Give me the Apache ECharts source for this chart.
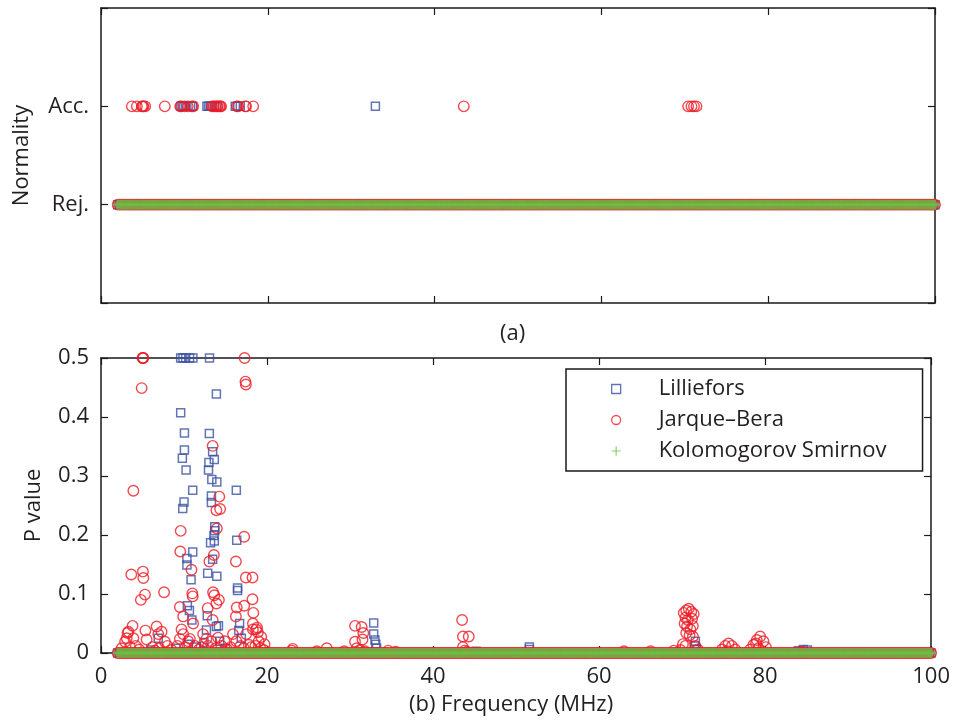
<!DOCTYPE html>
<html><head><meta charset="utf-8">
<script src="https://cdn.jsdelivr.net/npm/echarts@6/dist/echarts.min.js"></script>
<style>html,body{margin:0;padding:0;background:#fff}#c{width:953px;height:720px}</style>
</head><body><div id="c"></div>
<script>
// Frequency sweep (MHz) at which all three tests were evaluated
const freqMHz = [
2,2.25,2.5,2.75,3,3.25,3.5,3.75,4,4.25,4.5,4.75,5,5.25,5.5,5.75,6,6.25,6.5,6.75,
7,7.25,7.5,7.75,8,8.25,8.5,8.75,9,9.25,9.5,9.75,10,10.25,10.5,10.75,11,11.25,11.5,11.75,
12,12.25,12.5,12.75,13,13.25,13.5,13.75,14,14.25,14.5,14.75,15,15.25,15.5,15.75,16,16.25,16.5,16.75,
17,17.25,17.5,17.75,18,18.25,18.5,18.75,19,19.25,19.5,19.75,20,20.25,20.5,20.75,21,21.25,21.5,21.75,
22,22.25,22.5,22.75,23,23.25,23.5,23.75,24,24.25,24.5,24.75,25,25.25,25.5,25.75,26,26.25,26.5,26.75,
27,27.25,27.5,27.75,28,28.25,28.5,28.75,29,29.25,29.5,29.75,30,30.25,30.5,30.75,31,31.25,31.5,31.75,
32,32.25,32.5,32.75,33,33.25,33.5,33.75,34,34.25,34.5,34.75,35,35.25,35.5,35.75,36,36.25,36.5,36.75,
37,37.25,37.5,37.75,38,38.25,38.5,38.75,39,39.25,39.5,39.75,40,40.25,40.5,40.75,41,41.25,41.5,41.75,
42,42.25,42.5,42.75,43,43.25,43.5,43.75,44,44.25,44.5,44.75,45,45.25,45.5,45.75,46,46.25,46.5,46.75,
47,47.25,47.5,47.75,48,48.25,48.5,48.75,49,49.25,49.5,49.75,50,50.25,50.5,50.75,51,51.25,51.5,51.75,
52,52.25,52.5,52.75,53,53.25,53.5,53.75,54,54.25,54.5,54.75,55,55.25,55.5,55.75,56,56.25,56.5,56.75,
57,57.25,57.5,57.75,58,58.25,58.5,58.75,59,59.25,59.5,59.75,60,60.25,60.5,60.75,61,61.25,61.5,61.75,
62,62.25,62.5,62.75,63,63.25,63.5,63.75,64,64.25,64.5,64.75,65,65.25,65.5,65.75,66,66.25,66.5,66.75,
67,67.25,67.5,67.75,68,68.25,68.5,68.75,69,69.25,69.5,69.75,70,70.25,70.5,70.75,71,71.25,71.5,71.75,
72,72.25,72.5,72.75,73,73.25,73.5,73.75,74,74.25,74.5,74.75,75,75.25,75.5,75.75,76,76.25,76.5,76.75,
77,77.25,77.5,77.75,78,78.25,78.5,78.75,79,79.25,79.5,79.75,80,80.25,80.5,80.75,81,81.25,81.5,81.75,
82,82.25,82.5,82.75,83,83.25,83.5,83.75,84,84.25,84.5,84.75,85,85.25,85.5,85.75,86,86.25,86.5,86.75,
87,87.25,87.5,87.75,88,88.25,88.5,88.75,89,89.25,89.5,89.75,90,90.25,90.5,90.75,91,91.25,91.5,91.75,
92,92.25,92.5,92.75,93,93.25,93.5,93.75,94,94.25,94.5,94.75,95,95.25,95.5,95.75,96,96.25,96.5,96.75,
97,97.25,97.5,97.75,98,98.25,98.5,98.75,99,99.25,99.5,99.75,100
];

// Panel (a): frequencies where normality was accepted (Acc. = 1)
const lillieforsAccMHz = [9.6, 9.8, 10.1, 10.3, 10.75, 11.0, 12.7, 12.9, 13.1, 13.3, 13.6, 13.9, 16.1, 16.4, 16.7, 32.9];
const jarqueBeraAccMHz = [3.7, 4.3, 4.9, 5.0, 5.1, 5.3, 7.65, 9.5, 9.6, 10.0, 10.4, 10.9, 11.05, 13.3, 13.5, 13.7, 13.9, 14.0, 14.2, 14.3, 14.4, 16.3, 16.45, 17.3, 17.4, 18.25, 43.5, 70.4, 70.8, 71.1, 71.4];
const normalityTickLabels = { '0': 'Rej.', '1': 'Acc.' };

// Panel (b): non-zero p values [MHz, p]
const lillieforsP = [
[9.6,0.5],[9.87,0.5],[10.2,0.5],[10.67,0.5],[11.07,0.5],[13.07,0.5],
[13.9,0.439],[9.6,0.407],[10.05,0.373],[13.05,0.372],[10.05,0.344],[9.8,0.33],[13.45,0.341],[13.65,0.328],
[13.0,0.323],[12.95,0.31],[10.25,0.31],[13.35,0.294],[13.95,0.29],[11.05,0.276],[16.3,0.276],[13.3,0.266],
[10.0,0.256],[9.85,0.245],[13.3,0.255],[13.7,0.214],[13.7,0.207],[13.6,0.199],[13.65,0.19],[13.2,0.187],
[11.05,0.171],[10.35,0.16],[10.35,0.149],[13.45,0.159],[16.35,0.191],[12.85,0.135],[13.95,0.13],[10.85,0.124],
[16.45,0.11],[16.45,0.106],[10.4,0.08],[10.65,0.072],[10.95,0.056],[12.8,0.063],[14.15,0.046],[16.7,0.05],
[16.6,0.038],[6.9,0.025],[12.7,0.039],[13.9,0.045],[16.9,0.025],[14.3,0.02],[9.0,0.008],[10.5,0.015],
[11.5,0.01],[12.4,0.018],[15.0,0.008],[6.0,0.005],[32.85,0.051],[32.85,0.032],[33.0,0.022],[33.1,0.015],
[33.2,0.008],[45.2,0.003],[51.6,0.01],[51.6,0.006],[71.6,0.02],[71.5,0.012],[71.7,0.006],[84.0,0.004],
[84.6,0.006],[85.1,0.005]
];
const jarqueBeraP = [
[5.0,0.5],[5.1,0.5],[5.05,0.5],[4.9,0.449],[3.9,0.275],[17.3,0.5],[17.4,0.46],[17.45,0.455],
[3.65,0.133],[5.05,0.138],[5.1,0.127],[5.3,0.099],[4.8,0.09],[7.6,0.103],[9.6,0.207],[9.55,0.172],
[10.9,0.141],[11.0,0.101],[11.05,0.096],[9.5,0.078],[9.9,0.062],[11.1,0.05],[13.45,0.351],[14.25,0.265],
[13.9,0.242],[14.35,0.244],[13.95,0.211],[13.6,0.166],[13.05,0.155],[13.5,0.103],[13.65,0.098],[14.2,0.09],
[13.9,0.084],[12.85,0.076],[13.45,0.056],[17.25,0.197],[16.25,0.155],[17.45,0.128],[18.25,0.128],[18.25,0.091],
[17.25,0.08],[16.35,0.077],[18.35,0.068],[16.25,0.062],[18.3,0.05],[18.8,0.043],[18.7,0.04],
[3.3,0.036],[3.8,0.046],[5.35,0.038],[6.7,0.045],[7.3,0.036],[3.2,0.034],[3.1,0.025],[2.9,0.019],
[3.9,0.025],[5.5,0.023],[6.9,0.032],[7.7,0.019],[9.7,0.04],[9.9,0.032],[9.5,0.024],[10.7,0.024],
[10.5,0.02],[12.3,0.032],[12.7,0.024],[13.3,0.02],[14.1,0.026],[14.9,0.02],[15.9,0.032],[16.3,0.02],
[17.5,0.032],[18.3,0.04],[18.9,0.035],[19.3,0.027],[19.7,0.015],
[2.5,0.008],[3.5,0.01],[4.2,0.012],[4.6,0.006],[6.2,0.01],[6.5,0.004],[7.0,0.008],[8.0,0.012],
[8.5,0.005],[9.2,0.012],[10.2,0.01],[11.3,0.012],[11.8,0.006],[12.1,0.01],[12.9,0.012],[13.8,0.008],
[14.5,0.012],[15.2,0.006],[15.6,0.01],[16.8,0.012],[17.2,0.008],[17.8,0.014],[18.1,0.01],[18.6,0.012],
[19.0,0.02],[19.2,0.008],[19.6,0.005],
[23.0,0.004],[23.1,0.007],[26.0,0.003],[27.2,0.008],[29.3,0.003],[30.6,0.046],[31.4,0.044],[31.6,0.034],
[31.5,0.023],[30.6,0.019],[30.8,0.008],[31.2,0.005],[31.8,0.003],[34.6,0.004],[35.5,0.002],
[43.5,0.056],[43.6,0.028],[44.3,0.028],[43.6,0.01],[43.8,0.004],[44.1,0.002],[63.0,0.003],[66.2,0.003],[69.0,0.004],
[70.2,0.068],[70.5,0.072],[70.8,0.075],[71.1,0.07],[71.4,0.066],[70.4,0.06],[70.7,0.056],[71.2,0.058],
[70.3,0.05],[70.6,0.045],[71.0,0.04],[71.3,0.046],[70.5,0.034],[70.9,0.03],[71.3,0.028],[70.1,0.015],
[70.4,0.012],[71.6,0.012],[71.9,0.006],[69.8,0.005],
[74.8,0.006],[75.2,0.012],[75.6,0.016],[76.0,0.012],[76.4,0.006],[75.4,0.003],
[78.2,0.006],[78.6,0.014],[79.0,0.022],[79.4,0.028],[79.8,0.02],[80.1,0.01],[79.2,0.008],[78.9,0.016],
[84.5,0.002]
];
const seriesNames = ['Lilliefors', 'Jarque\u2013Bera', 'Kolomogorov Smirnov'];

const FONT = "'Open Sans', 'Noto Sans', sans-serif";
const AX = '#1a1a1a';
const TXT = '#231f20';
const BLUE = '#3953a4', RED = '#ed1c24', GREEN = '#6cbe45';
// filled plus shapes (band marker and thinner legend icon)
const PLUS = 'path://M3.8,0H6.2V3.8H10V6.2H6.2V10H3.8V6.2H0V3.8H3.8Z';
const PLUS_THIN = 'path://M4.35,0H5.65V4.35H10V5.65H5.65V10H4.35V5.65H0V4.35H4.35Z';

function frameAxis(o) {
  return Object.assign({
    type: 'value',
    axisLine: { show: true, onZero: false, lineStyle: { color: AX, width: 1.5 } },
    axisTick: { show: true, inside: true, length: 7, lineStyle: { color: AX, width: 1.2 } },
    axisLabel: { show: false },
    splitLine: { show: false }
  }, o);
}
const labelStyle = { show: true, fontSize: 22, fontFamily: FONT, color: TXT };
const nameStyle = { fontSize: 22, fontFamily: FONT, color: TXT };

const zeros = freqMHz.map(f => [f, 0]);
const styleL = { color: 'rgba(0,0,0,0)', borderColor: BLUE, borderWidth: 1.5 };
const styleJ = { color: 'rgba(0,0,0,0)', borderColor: RED, borderWidth: 1.4 };
const styleK = { color: GREEN, borderWidth: 0 };

function mk(name, xi, yi, data, sym, size, style) {
  return { type: 'scatter', name, xAxisIndex: xi, yAxisIndex: yi, data, symbol: sym, symbolSize: size,
    itemStyle: style, clip: false, silent: true, large: false, progressive: 0 };
}

const option = {
  animation: false,
  backgroundColor: '#fff',
  grid: [
    { left: 101, top: 8, width: 834, height: 295 },
    { left: 101, top: 358, width: 834, height: 295 }
  ],
  xAxis: [
    frameAxis({ gridIndex: 0, min: 0, max: 100, interval: 20, position: 'bottom' }),
    frameAxis({ gridIndex: 0, min: 0, max: 100, interval: 20, position: 'top' }),
    frameAxis({ gridIndex: 1, min: 0, max: 100, interval: 20, position: 'bottom',
      axisLabel: Object.assign({ margin: 13 }, labelStyle),
      name: '(b) Frequency (MHz)', nameLocation: 'middle', nameGap: 41,
      nameTextStyle: Object.assign({ padding: [0, 10, 0, 0] }, nameStyle) }),
    frameAxis({ gridIndex: 1, min: 0, max: 100, interval: 20, position: 'top' })
  ],
  yAxis: [
    frameAxis({ gridIndex: 0, min: -1, max: 2, interval: 1, position: 'left',
      axisLabel: Object.assign({ margin: 12, formatter: v => normalityTickLabels[String(v)] || '' }, labelStyle),
      name: 'Normality', nameLocation: 'middle', nameGap: 68, nameTextStyle: nameStyle }),
    frameAxis({ gridIndex: 0, min: -1, max: 2, interval: 1, position: 'right' }),
    frameAxis({ gridIndex: 1, min: 0, max: 0.5, interval: 0.1, position: 'left',
      axisLabel: Object.assign({ margin: 12 }, labelStyle),
      name: 'P value', nameLocation: 'middle', nameGap: 56, nameTextStyle: nameStyle }),
    frameAxis({ gridIndex: 1, min: 0, max: 0.5, interval: 0.1, position: 'right' })
  ],
  legend: {
    data: [
      { name: seriesNames[0], icon: 'rect' },
      { name: seriesNames[1], icon: 'circle' },
      { name: seriesNames[2], icon: PLUS_THIN }
    ],
    orient: 'vertical', left: 566, top: 369,
    itemWidth: 9, itemHeight: 9, itemGap: 9, padding: [9, 36, 9, 45],
    borderColor: AX, borderWidth: 1.5, backgroundColor: '#fff', selectedMode: false,
    itemStyle: { borderWidth: 1.3 },
    textStyle: { fontSize: 22, fontFamily: FONT, color: TXT, padding: [0, 0, 0, 33] }
  },
  graphic: [
    { type: 'text', left: 500, top: 323, style: { text: '(a)', font: '22px ' + FONT, fill: TXT } }
  ],
  series: [
    mk(seriesNames[0], 0, 0, zeros.concat(lillieforsAccMHz.map(f => [f, 1])), 'rect', 8, styleL),
    mk(seriesNames[1], 0, 0, zeros.concat(jarqueBeraAccMHz.map(f => [f, 1])), 'circle', 10.5, styleJ),
    mk(seriesNames[2], 0, 0, zeros, PLUS, 10, styleK),
    mk(seriesNames[0], 2, 2, zeros.concat(lillieforsP), 'rect', 8, styleL),
    mk(seriesNames[1], 2, 2, zeros.concat(jarqueBeraP), 'circle', 10.5, styleJ),
    mk(seriesNames[2], 2, 2, zeros, PLUS, 10, styleK)
  ]
};
const chart = echarts.init(document.getElementById('c'), null, { renderer: 'canvas' });
chart.setOption(option);
</script>
</body></html>
